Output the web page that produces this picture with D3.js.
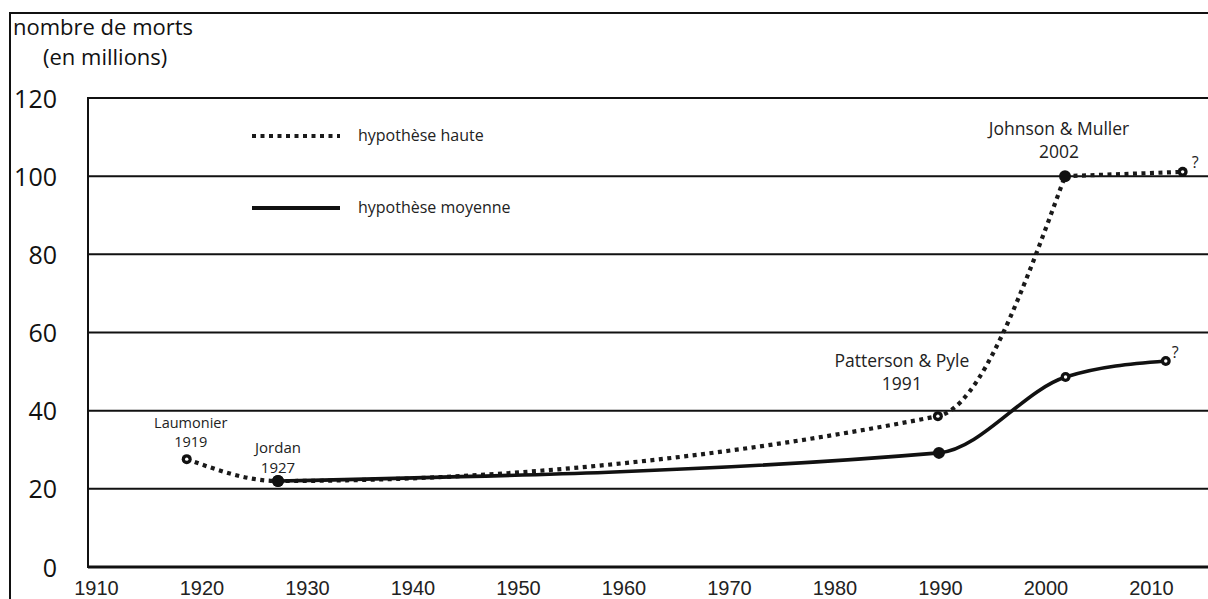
<!DOCTYPE html>
<html>
<head>
<meta charset="utf-8">
<script src="https://cdn.jsdelivr.net/npm/d3@7"></script>
<style>
  html, body { margin: 0; padding: 0; background: #fff; }
  svg { display: block; }
</style>
</head>
<body>
<svg id="chart" width="1208" height="599"></svg>
<script>
// ---- data ----
const yTicks = [0, 20, 40, 60, 80, 100, 120];
const xTicks = [1910, 1920, 1930, 1940, 1950, 1960, 1970, 1980, 1990, 2000, 2010];

// hypothèse haute
const highYears  = [1918.6, 1927.25, 1989.8, 2001.85, 2013.0];
const highValues = [27.6, 22.0, 38.6, 100.0, 101.1];
const highOpen   = [true, false, true, false, true];

// hypothèse moyenne
const midYears  = [1927.25, 1989.9, 2001.9, 2011.4];
const midValues = [22.0, 29.2, 48.6, 52.7];
const midOpen   = [false, false, true, true];

// source annotations
const annotNames = ["Laumonier", "Jordan", "Patterson & Pyle", "Johnson & Muller"];
const annotDates = ["1919", "1927", "1991", "2002"];
const annotYears = [1918.6, 1927.25, 1989.8, 2001.85];
const annotValues = [27.6, 22.0, 38.6, 100.0];

const legendLabels = ["hypothèse haute", "hypothèse moyenne"];
const titleLines = ["nombre de morts", "(en millions)"];

// ---- layout ----
const W = 1208, H = 599;
const axisX = 88;
const humanist = "'Open Sans', 'Noto Sans', sans-serif";
const svg = d3.select("#chart");

const x = d3.scaleLinear().domain([1910, 2010]).range([96, 1151]);
const y = d3.scaleLinear().domain([0, 120]).range([567, 98]);

// outer frame
svg.append("path")
  .attr("d", `M${W + 5},13 H10 V${H + 5}`)
  .attr("fill", "none").attr("stroke", "#111").attr("stroke-width", 2);

// gridlines
svg.append("g").selectAll("line").data(yTicks).join("line")
  .attr("x1", axisX).attr("x2", W)
  .attr("y1", d => y(d)).attr("y2", d => y(d))
  .attr("stroke", "#111")
  .attr("stroke-width", d => d === 0 ? 3 : 2);

// y axis line
svg.append("line")
  .attr("x1", axisX).attr("x2", axisX)
  .attr("y1", y(120) - 1).attr("y2", y(0) + 1)
  .attr("stroke", "#111").attr("stroke-width", 2);

// y axis labels
const yAxis = d3.axisLeft(y).tickValues(yTicks).tickSize(0).tickPadding(31);
const gy = svg.append("g").attr("transform", `translate(${axisX},0)`).call(yAxis);
gy.select(".domain").remove();
gy.selectAll("text")
  .attr("font-family", humanist).attr("font-size", 25).attr("fill", "#111")
  .attr("dy", "0.36em");

// x axis labels
const xAxis = d3.axisBottom(x).tickValues(xTicks).tickFormat(d3.format("d")).tickSize(0);
const gx = svg.append("g").attr("transform", `translate(0,${y(0)})`).call(xAxis);
gx.select(".domain").remove();
gx.selectAll("text")
  .attr("font-family", "'Liberation Sans', Arial, sans-serif")
  .attr("font-size", 20).attr("fill", "#222")
  .attr("y", 28).attr("dy", null);

// title
svg.append("text").attr("x", 13).attr("y", 35)
  .attr("font-family", humanist).attr("font-size", 22).attr("fill", "#111")
  .text(titleLines[0]);
svg.append("text").attr("x", 43).attr("y", 65)
  .attr("font-family", humanist).attr("font-size", 22).attr("fill", "#111")
  .text(titleLines[1]);

// lines
const highPts = highYears.map((yr, i) => [x(yr), y(highValues[i])]);
const midPts = midYears.map((yr, i) => [x(yr), y(midValues[i])]);

const curve = d3.line().curve(d3.curveMonotoneX);
const straight = d3.line();

const dotted = { stroke: "#1a1a1a", "stroke-width": 4.2, "stroke-dasharray": "4,4.5", fill: "none" };
function applyAttrs(sel, o) { Object.entries(o).forEach(([k, v]) => sel.attr(k, v)); return sel; }

applyAttrs(svg.append("path").attr("d", curve(highPts.slice(0, 4))), dotted);
applyAttrs(svg.append("path").attr("d", straight(highPts.slice(3))), dotted);

svg.append("path").attr("d", curve(midPts))
  .attr("fill", "none").attr("stroke", "#111").attr("stroke-width", 3.6)
  .attr("stroke-linejoin", "round");

// markers
function drawDots(pts, open) {
  const g = svg.append("g");
  g.selectAll("circle.o").data(pts).join("circle")
    .attr("cx", d => d[0]).attr("cy", d => d[1])
    .attr("r", (d, i) => open[i] ? 5 : 6)
    .attr("fill", "#111");
  g.selectAll("circle.i").data(pts.filter((d, i) => open[i])).join("circle")
    .attr("cx", d => d[0]).attr("cy", d => d[1])
    .attr("r", 1.7).attr("fill", "#fff");
}
drawDots(highPts, highOpen);
drawDots(midPts, midOpen);

// question marks at the ends
const qSize = 16;
svg.append("text").attr("x", highPts[4][0] + 9).attr("y", highPts[4][1] - 4)
  .attr("font-family", humanist).attr("font-size", qSize).attr("fill", "#222").text("?");
svg.append("text").attr("x", midPts[3][0] + 6).attr("y", midPts[3][1] - 3)
  .attr("font-family", humanist).attr("font-size", qSize).attr("fill", "#222").text("?");

// annotations (two-line labels): [dx, name baseline dy, line gap, font size]
const annotLayout = [
  [4, -31, 19, 14.5],
  [0, -28, 20, 15],
  [-36, -49, 23, 17.5],
  [-6, -41, 23, 17.5]
];
annotNames.forEach((name, i) => {
  const [dx, dyName, gap, fs] = annotLayout[i];
  const cx = x(annotYears[i]) + dx, cy = y(annotValues[i]);
  const t = svg.append("text").attr("x", cx).attr("y", cy + dyName)
    .attr("text-anchor", "middle").attr("font-family", humanist)
    .attr("font-size", fs).attr("fill", "#222");
  t.append("tspan").attr("x", cx).text(name);
  t.append("tspan").attr("x", cx).attr("dy", gap).text(annotDates[i]);
});

// legend
const legendY = [136, 208];
applyAttrs(svg.append("line").attr("x1", 252).attr("x2", 340).attr("y1", legendY[0]).attr("y2", legendY[0]), dotted);
svg.append("line").attr("x1", 252).attr("x2", 340).attr("y1", legendY[1]).attr("y2", legendY[1])
  .attr("stroke", "#111").attr("stroke-width", 4);
svg.append("g").selectAll("text").data(legendLabels).join("text")
  .attr("x", 358).attr("y", (d, i) => legendY[i]).attr("dy", "0.32em")
  .attr("font-family", humanist).attr("font-size", 16).attr("fill", "#222")
  .text(d => d);
</script>
</body>
</html>
